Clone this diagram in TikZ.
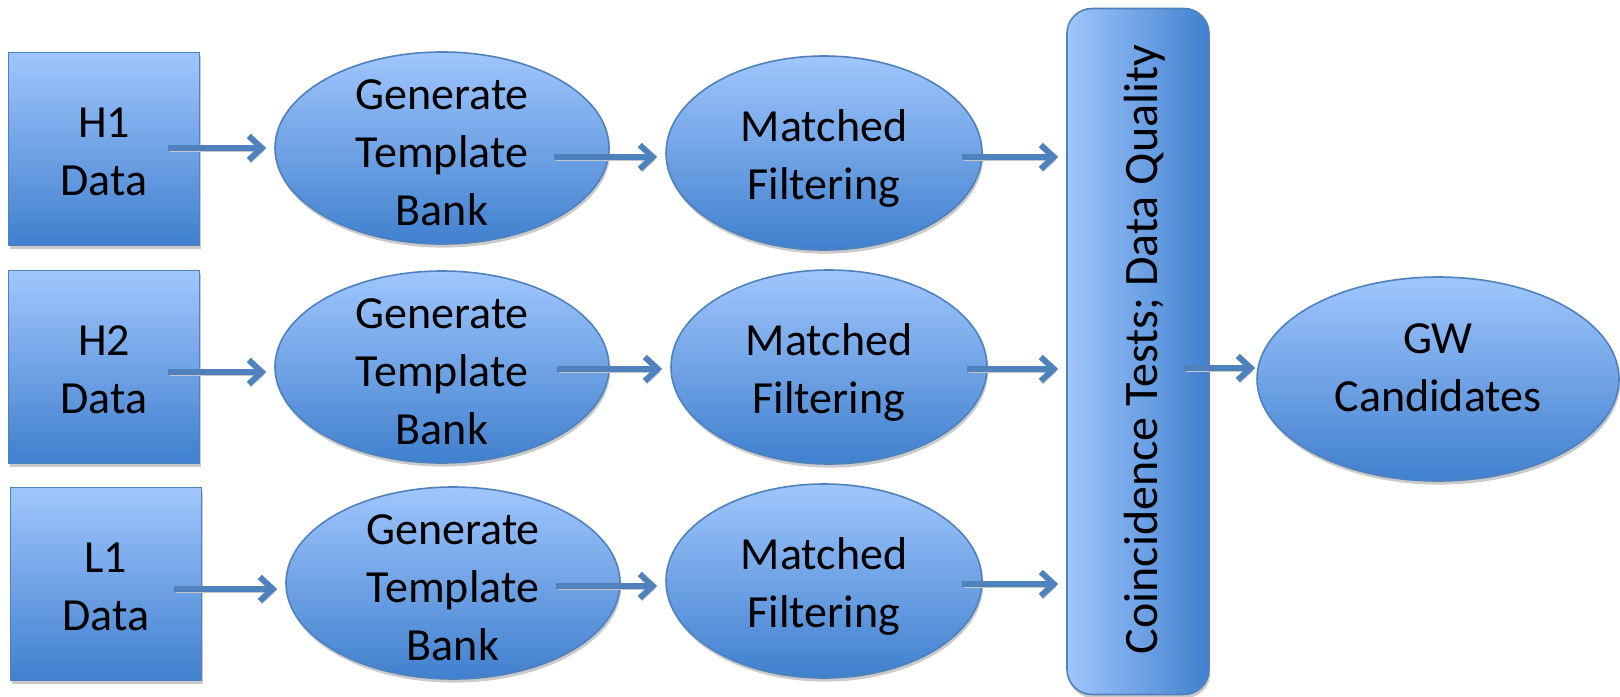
\documentclass[tikz,border=0pt]{standalone}
\usepackage{fontspec}
\setmainfont{Carlito}
\usetikzlibrary{shapes.geometric,shadows,arrows.meta}

\definecolor{stageline}{RGB}{79,129,189}
\definecolor{stagetop}{RGB}{160,198,253}
\definecolor{stagebottom}{RGB}{64,128,206}

\tikzset{
    stage/.style = {draw = stageline, line width = 0.8pt,
        top color = stagetop, bottom color = stagebottom,
        align = center, inner sep = 0pt,
        drop shadow = {shadow xshift = 0.6pt, shadow yshift = -1.8pt,
            fill = black!35, opacity = 0.6}},
    databox/.style = {stage, rectangle,
        minimum width = 95.5pt, minimum height = 96.5pt},
    bankoval/.style = {stage, ellipse,
        minimum width = 167pt, minimum height = 96pt},
    filteroval/.style = {stage, ellipse,
        minimum width = 158pt, minimum height = 97pt},
    inside/.style = {align = center, inner sep = 0pt,
        font = \fontsize{23}{29}\selectfont},
    flow/.style = {line width = 3pt, draw = stageline,
        -{Straight Barb[length = 6.5pt, width = 12pt]},
        shorten > = 4pt,
        preaction = {draw = black!22,
            transform canvas = {shift = {(0.9pt,-1.6pt)}}}}
}

\begin{document}
\begin{tikzpicture}[x = 0.5pt, y = -0.5pt]
    \useasboundingbox (0,0) rectangle (1620,696);

    % detector data
    \draw (104,149) node(h1) [databox,
        label = {[inside, yshift = -1.5pt]center:H1\\Data}] {};
    \draw (104,367) node(h2) [databox,
        label = {[inside, yshift = -1.5pt]center:H2\\Data}] {};
    \draw (106,584) node(l1) [databox,
        label = {[inside, yshift = -1.5pt]center:L1\\Data}] {};

    % template banks
    \draw (442,148) node(bank1) [bankoval,
        label = {[inside, yshift = -2.5pt]center:Generate\\Template\\Bank}] {};
    \draw (442,367) node(bank2) [bankoval,
        label = {[inside, yshift = -2.5pt]center:Generate\\Template\\Bank}] {};
    \draw (453,583) node(bank3) [bankoval,
        label = {[inside, yshift = -2.5pt]center:Generate\\Template\\Bank}] {};

    % filtering
    \draw (824,153) node(filt1) [filteroval,
        label = {[inside, yshift = -2.5pt]center:Matched\\Filtering}] {};
    \draw (829,367) node(filt2) [filteroval,
        label = {[inside, yshift = -2.5pt]center:Matched\\Filtering}] {};
    \draw (824,581) node(filt3) [filteroval,
        label = {[inside, yshift = -2.5pt]center:Matched\\Filtering}] {};

    \draw (1138,351.5) node(coinc) [stage, rectangle, rounded corners = 12.5pt,
        left color = stagetop, right color = stagebottom,
        minimum width = 71pt, minimum height = 343pt,
        label = {[inside, xshift = 3.5pt, yshift = 1pt,
            font = \fontsize{24}{29}\selectfont]center:%
            \rotatebox{90}{Coincidence Tests; Data Quality}}] {};

    \draw (1438,379) node(gw) [stage, ellipse,
        minimum width = 181pt, minimum height = 102pt,
        label = {[inside, yshift = 5.5pt]center:GW\\Candidates}] {};

    % arrows
    \draw [flow] ([shift = {(-32,-1)}]h1.east) coordinate (a1) -- (bank1.west |- a1);
    \draw [flow] ([shift = {(-32,5)}]h2.east) coordinate (a2) -- (bank2.west |- a2);
    \draw [flow] ([shift = {(-28,5)}]l1.east) coordinate (a3) -- (bank3.west |- a3);
    \draw [flow] ([shift = {(-56,9)}]bank1.east) coordinate (b1) -- (filt1.west |- b1);
    \draw [flow] ([shift = {(-53,2)}]bank2.east) coordinate (b2) -- (filt2.west |- b2);
    \draw [flow] ([shift = {(-65,3)}]bank3.east) coordinate (b3) -- (filt3.west |- b3);
    \draw [flow] ([shift = {(-21,4)}]filt1.east) coordinate (c1) -- (coinc.west |- c1);
    \draw [flow] ([shift = {(-21,2)}]filt2.east) coordinate (c2) -- (coinc.west |- c2);
    \draw [flow] ([shift = {(-21,3)}]filt3.east) coordinate (c3) -- (coinc.west |- c3);
    \draw [flow, shorten > = 0.5pt] ([shift = {(-26,16.5)}]coinc.east) coordinate (d1)
        -- (gw.west |- d1);
\end{tikzpicture}
\end{document}
